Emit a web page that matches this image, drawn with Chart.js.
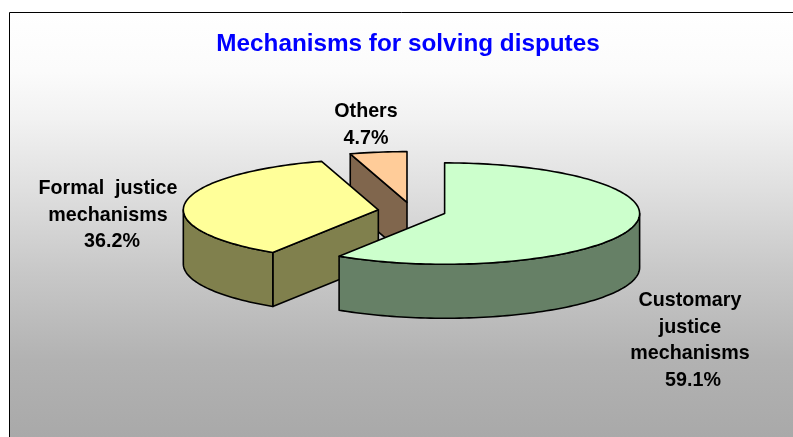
<!DOCTYPE html>
<html>
<head>
<meta charset="utf-8">
<title>Mechanisms for solving disputes</title>
<script src="https://cdn.jsdelivr.net/npm/chart.js@4"></script>
<style>
  html, body { margin: 0; padding: 0; background: #fff; }
  canvas { display: block; }
</style>
</head>
<body>
<canvas id="pieChart" width="793" height="437"></canvas>
<script>
var chartTitle = "Mechanisms for solving disputes";
var categories = ["Customary justice mechanisms", "Formal justice mechanisms", "Others"];
var shares = [59.1, 36.2, 4.7];
var labelLines = [
  ["Customary", "justice", "mechanisms"],
  ["Formal  justice", "mechanisms"],
  ["Others"],
];
var topColors = ["#CCFFCC", "#FFFF99", "#FFCC99"];
var wallColors = ["#668066", "#80804D", "#80664D"];

// squashed look of the excel 3d pie
var squash = 0.26;
var depth = 54;
var explode = 34;
var shiftX = 4;
var labelX = [690, 108, 366];
var labelY = [301, 189, 112];
var pctShift = [3, 4, 0];
var labelStep = 26.5;

function arcPath(ctx, c, r, from, to, dy) {
  var steps = Math.max(2, Math.ceil(Math.abs(to - from) * 40));
  for (var i = 0; i <= steps; i++) {
    var a = from + ((to - from) * i) / steps;
    ctx.lineTo(c.x + Math.cos(a) * r, c.y + dy + Math.sin(a) * r * squash);
  }
}

function sliceGeom(arc) {
  var p = arc.getProps(["x", "y", "startAngle", "endAngle", "outerRadius"], true);
  var mid = (p.startAngle + p.endAngle) / 2;
  var off = arc.options.offset || 0;
  return {
    x: p.x + shiftX + Math.cos(mid) * off,
    y: p.y + Math.sin(mid) * off * squash,
    start: p.startAngle,
    end: p.endAngle,
    r: p.outerRadius,
  };
}

function drawSideFace(ctx, c, angle) {
  var rx = c.x + Math.cos(angle) * c.r;
  var ry = c.y + Math.sin(angle) * c.r * squash;
  ctx.beginPath();
  ctx.moveTo(c.x, c.y);
  ctx.lineTo(rx, ry);
  ctx.lineTo(rx, ry + depth);
  ctx.lineTo(c.x, c.y + depth);
  ctx.closePath();
  ctx.fill();
  ctx.stroke();
}

function drawSlice(ctx, arc, index) {
  var c = sliceGeom(arc);
  ctx.lineWidth = 1.6;
  ctx.strokeStyle = "#000";
  ctx.lineJoin = "round";

  // cut faces, only the ones turned to the viewer
  ctx.fillStyle = wallColors[index];
  if (Math.cos(c.start) < -0.001) drawSideFace(ctx, c, c.start);
  if (Math.cos(c.end) > 0.001) drawSideFace(ctx, c, c.end);

  // rim wall, front half only
  var lo = Math.max(c.start, 0);
  var hi = Math.min(c.end, Math.PI);
  if (hi > lo) {
    ctx.beginPath();
    arcPath(ctx, c, c.r, lo, hi, 0);
    arcPath(ctx, c, c.r, hi, lo, depth);
    ctx.closePath();
    ctx.fill();
    ctx.stroke();
  }

  // top face
  ctx.fillStyle = topColors[index];
  ctx.beginPath();
  ctx.moveTo(c.x, c.y);
  arcPath(ctx, c, c.r, c.start, c.end, 0);
  ctx.closePath();
  ctx.fill();
  ctx.stroke();
}

var backdrop = {
  id: "backdrop",
  beforeDraw: function (chart) {
    var ctx = chart.ctx;
    var grad = ctx.createLinearGradient(0, 12, 0, 437);
    grad.addColorStop(0, "#ffffff");
    grad.addColorStop(0.14, "#fbfbfb");
    grad.addColorStop(0.25, "#f2f2f2");
    grad.addColorStop(0.42, "#dfdfdf");
    grad.addColorStop(0.61, "#c8c8c8");
    grad.addColorStop(0.82, "#b2b2b2");
    grad.addColorStop(1, "#a9a9a9");
    ctx.save();
    ctx.fillStyle = grad;
    ctx.fillRect(9, 12, chart.width - 9, chart.height - 12);
    ctx.strokeStyle = "#000";
    ctx.lineWidth = 1;
    ctx.beginPath();
    ctx.moveTo(9.5, chart.height);
    ctx.lineTo(9.5, 12.5);
    ctx.lineTo(chart.width, 12.5);
    ctx.stroke();
    ctx.restore();
  },
};

var pie3d = {
  id: "pie3d",
  beforeDatasetDraw: function (chart, args) {
    var ctx = chart.ctx;
    var arcs = args.meta.data;
    ctx.save();
    // back to front
    [2, 1, 0].forEach(function (i) {
      drawSlice(ctx, arcs[i], i);
    });
    ctx.restore();
    return false;
  },
  afterDatasetsDraw: function (chart) {
    var ctx = chart.ctx;
    ctx.save();
    ctx.font = "bold 19.7px 'Liberation Sans', Arial, sans-serif";
    ctx.fillStyle = "#000";
    ctx.textAlign = "center";
    ctx.textBaseline = "middle";
    labelLines.forEach(function (lines, i) {
      lines.forEach(function (text, j) {
        ctx.fillText(text, labelX[i], labelY[i] + j * labelStep);
      });
      ctx.fillText(shares[i].toFixed(1) + "%", labelX[i] + pctShift[i], labelY[i] + lines.length * labelStep);
    });
    ctx.restore();
  },
};

new Chart(document.getElementById("pieChart"), {
  type: "pie",
  data: {
    labels: categories,
    datasets: [
      {
        data: shares,
        backgroundColor: topColors,
        offset: explode,
        radius: 195,
      },
    ],
  },
  options: {
    responsive: false,
    animation: false,
    radius: 195,
    layout: { padding: { left: 23, right: 0, top: 0, bottom: 74 } },
    plugins: {
      legend: { display: false },
      tooltip: { enabled: false },
      title: {
        display: true,
        text: chartTitle,
        color: "#0000FF",
        font: { family: "'Liberation Sans', Arial, sans-serif", size: 24.3, weight: "bold" },
        padding: { top: 30, bottom: 0 },
      },
    },
  },
  plugins: [backdrop, pie3d],
});
</script>
</body>
</html>
